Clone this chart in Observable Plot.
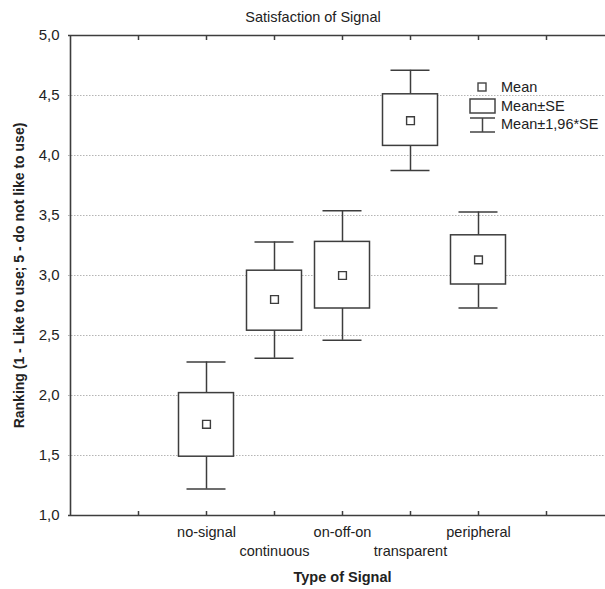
<!DOCTYPE html>
<html>
<head>
<meta charset="utf-8">
<script src="https://cdn.jsdelivr.net/npm/d3@7"></script>
<script src="https://cdn.jsdelivr.net/npm/@observablehq/plot@0.6"></script>
<style>
  html, body { margin: 0; padding: 0; overflow: hidden; background: #fff; }
  #wrap { position: relative; width: 605px; height: 589px; overflow: hidden; font-family: "Liberation Sans", Arial, sans-serif; }
  #chart svg { max-width: none !important; overflow: hidden !important; display: block; }
  #legend { position: absolute; left: 468px; top: 78px; font-size: 14.5px; color: #222; line-height: 18px; white-space: nowrap; }
  #legend .row { display: flex; align-items: center; height: 18.5px; }
  #legend svg { width: 30px; height: 18px; margin-right: 3px; overflow: visible; }
</style>
</head>
<body>
<div id="wrap">
  <div id="chart"></div>
  <div id="legend">
    <div class="row"><svg><rect x="10" y="5" width="8" height="8" fill="white" stroke="#444" stroke-width="1.4"/></svg><span>Mean</span></div>
    <div class="row"><svg><rect x="2" y="2" width="25" height="14" fill="white" stroke="#444" stroke-width="1.5"/></svg><span>Mean±SE</span></div>
    <div class="row"><svg><path d="M2,3H27M14.5,3V17M2,17H27" fill="none" stroke="#444" stroke-width="1.5"/></svg><span>Mean±1,96*SE</span></div>
  </div>
</div>
<script>
const categories = ["no-signal", "continuous", "on-off-on", "transparent", "peripheral"];
const meanValues = [1.76, 2.80, 3.00, 4.29, 3.13];
const seLow      = [1.49, 2.54, 2.725, 4.08, 2.925];
const seHigh     = [2.02, 3.04, 3.28, 4.51, 3.335];
const ciLow      = [1.22, 2.31, 2.46, 3.875, 2.73];
const ciHigh     = [2.28, 3.28, 3.54, 4.71, 3.53];
const yTicks = [1.0, 1.5, 2.0, 2.5, 3.0, 3.5, 4.0, 4.5, 5.0];
const slots = ["·0", "·1", ...categories, "·7", "·8"];
const title = "Satisfaction of Signal";
const xTitle = "Type of Signal";
const yTitle = "Ranking (1 - Like to use; 5 - do not like to use)";

const rows = categories.map((c, i) => ({
  cat: c, mean: meanValues[i], seLow: seLow[i], seHigh: seHigh[i], ciLow: ciLow[i], ciHigh: ciHigh[i]
}));

const ink = "#3d3d3d";
const font = "Liberation Sans, Arial, sans-serif";

const chart = Plot.plot({
  width: 605,
  height: 589,
  marginLeft: 68,
  marginRight: -11,
  marginTop: 35,
  marginBottom: 74,
  style: { fontFamily: font, color: "#222", background: "white", maxWidth: "none" },
  x: { type: "band", domain: slots, range: [33.75, 650.25], padding: 0, axis: null },
  y: { domain: [1, 5], axis: null },
  marks: [
    Plot.ruleY(yTicks.slice(1, -1), { stroke: "#b5b5b5", strokeDasharray: "1.5,1.5", strokeWidth: 1 }),
    Plot.ruleX(rows, { x: "cat", y1: "ciLow", y2: "ciHigh", stroke: ink, strokeWidth: 1.5 }),
    Plot.tickY(rows, { x: "cat", y: "ciLow", stroke: ink, strokeWidth: 1.5, insetLeft: 14.5, insetRight: 14.5 }),
    Plot.tickY(rows, { x: "cat", y: "ciHigh", stroke: ink, strokeWidth: 1.5, insetLeft: 14.5, insetRight: 14.5 }),
    Plot.barY(rows, { x: "cat", y1: "seLow", y2: "seHigh", fill: "white", stroke: ink, strokeWidth: 1.5, insetLeft: 6.5, insetRight: 6.5 }),
    Plot.dot(rows, { x: "cat", y: "mean", symbol: "square", r: 4.4, fill: "white", stroke: ink, strokeWidth: 1.4 }),
    Plot.ruleY([yTicks[0], yTicks[yTicks.length - 1]], { stroke: ink, strokeWidth: 1.6 }),
    Plot.ruleX([slots[0]], { stroke: ink, strokeWidth: 1.6 }),
    Plot.axisY({ ticks: yTicks, tickFormat: d => d.toFixed(1).replace(".", ","), tickSize: 0, tickPadding: 9, fontSize: 15, label: null, fill: "#222" }),
    Plot.axisX({ anchor: "bottom", ticks: slots.slice(1, -1), tickSize: -4, tickFormat: () => "", label: null, stroke: ink, strokeWidth: 1.5 }),
    Plot.axisX({ anchor: "top", ticks: slots.slice(1, -1), tickSize: -4, tickFormat: () => "", label: null, stroke: ink, strokeWidth: 1.5 }),
    Plot.axisX({ anchor: "bottom", ticks: categories.filter((d, i) => i % 2 === 0), tickSize: 0, tickPadding: 11, fontSize: 14.5, label: null, fill: "#222" }),
    Plot.axisX({ anchor: "bottom", ticks: categories.filter((d, i) => i % 2 === 1), tickSize: 0, tickPadding: 30, fontSize: 14.5, label: null, fill: "#222" }),
    Plot.text([xTitle], { frameAnchor: "bottom", dy: 66, fontWeight: "bold", fontSize: 14.5, fill: "#222" }),
    Plot.text([yTitle], { frameAnchor: "left", textAnchor: "middle", dx: -49, rotate: -90, fontWeight: "bold", fontSize: 14, fill: "#222" }),
    Plot.text([title], { frameAnchor: "top", dy: -24, dx: -29.5, fontSize: 14.5, fill: "#222" })
  ]
});
document.getElementById("chart").appendChild(chart);
</script>
</body>
</html>
